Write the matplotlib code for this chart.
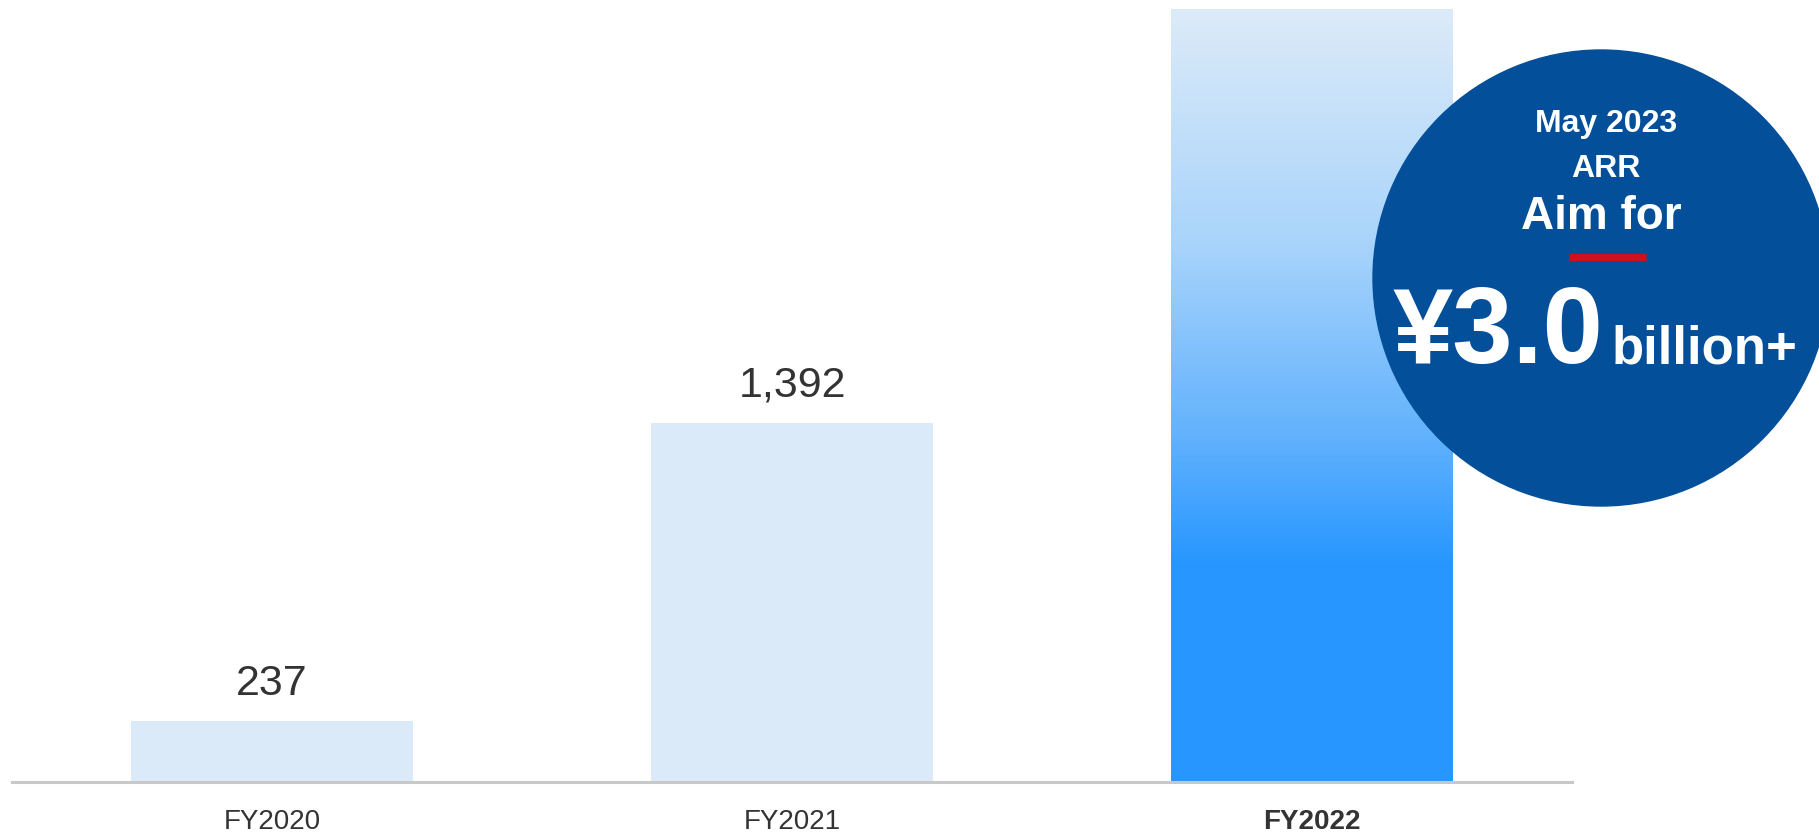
import numpy as np
import matplotlib
matplotlib.use("Agg")
from matplotlib import pyplot as plt
from matplotlib.colors import LinearSegmentedColormap
from matplotlib.patches import Circle

# data
years = ["FY2020", "FY2021", "FY2022"]
arr_values = [237, 1392, 3000]
value_labels = ["237", "1,392", ""]
callout_lines = ["May 2023", "ARR", "Aim for"]
callout_amount = "¥3.0"
callout_unit = "billion+"

plt.rcParams["font.family"] = ["Liberation Sans", "DejaVu Sans"]

TEXT = "#333333"
LIGHT = "#DBEAF8"
NAVY = "#034F99"

fig = plt.figure(figsize=(18.19, 8.34), dpi=100)
ax = fig.add_axes([12 / 1819, 52 / 834, 1560 / 1819, 773 / 834])

x = np.arange(len(years))
bars = ax.bar(x, arr_values, width=0.541, color=[LIGHT, LIGHT, LIGHT], zorder=2)

# gradient fill for the latest year
grad = LinearSegmentedColormap.from_list(
    "arr", [(0.0, "#DCEBF8"), (0.3, "#A9D4FB"), (0.55, "#62B2FD"),
            (0.72, "#2796FF"), (1.0, "#2796FF")])
last = bars[-1]
img = ax.imshow(np.linspace(0, 1, 256).reshape(-1, 1), cmap=grad, aspect="auto",
                origin="upper",
                extent=(last.get_x(), last.get_x() + last.get_width(), 0, arr_values[-1]),
                zorder=3)
img.set_clip_path(last)

for xi, v, lab in zip(x, arr_values, value_labels):
    if lab:
        ax.annotate(lab, (xi, v), xytext=(0, 19), textcoords="offset points",
                    ha="center", va="baseline", fontsize=31, color=TEXT)

ax.set_xlim(-0.5, 2.5)
ax.set_ylim(0, arr_values[-1])
ax.set_xticks(x)
ax.set_xticklabels(years, fontsize=20, color=TEXT)
ax.get_xticklabels()[-1].set_fontweight("bold")
ax.tick_params(axis="x", length=0, pad=19.5)
ax.set_yticks([])
for s in ["top", "right", "left"]:
    ax.spines[s].set_visible(False)
ax.spines["bottom"].set_color("#C8C8C8")
ax.spines["bottom"].set_linewidth(2.2)
ax.spines["bottom"].set_zorder(4)

# callout circle, drawn in pixel coordinates
ov = fig.add_axes([0, 0, 1, 1])
ov.set_xlim(0, 1819)
ov.set_ylim(834, 0)
ov.axis("off")
ov.patch.set_alpha(0)
ov.add_patch(Circle((1601, 278), 228, color=NAVY, zorder=1))
ov.text(1606, 132, callout_lines[0], ha="center", va="baseline",
        fontsize=23, fontweight="bold", color="white")
ov.text(1606, 177, callout_lines[1], ha="center", va="baseline",
        fontsize=23, fontweight="bold", color="white")
ov.text(1601, 229, callout_lines[2], ha="center", va="baseline",
        fontsize=33, fontweight="bold", color="white")
ov.plot([1569, 1646], [257, 257], color="#D0101A", linewidth=5, solid_capstyle="butt")
ov.text(1393, 363, callout_amount, ha="left", va="baseline",
        fontsize=78, fontweight="bold", color="white")
ov.text(1612, 363, callout_unit, ha="left", va="baseline",
        fontsize=38, fontweight="bold", color="white")

fig.savefig("out.png", dpi=100)
